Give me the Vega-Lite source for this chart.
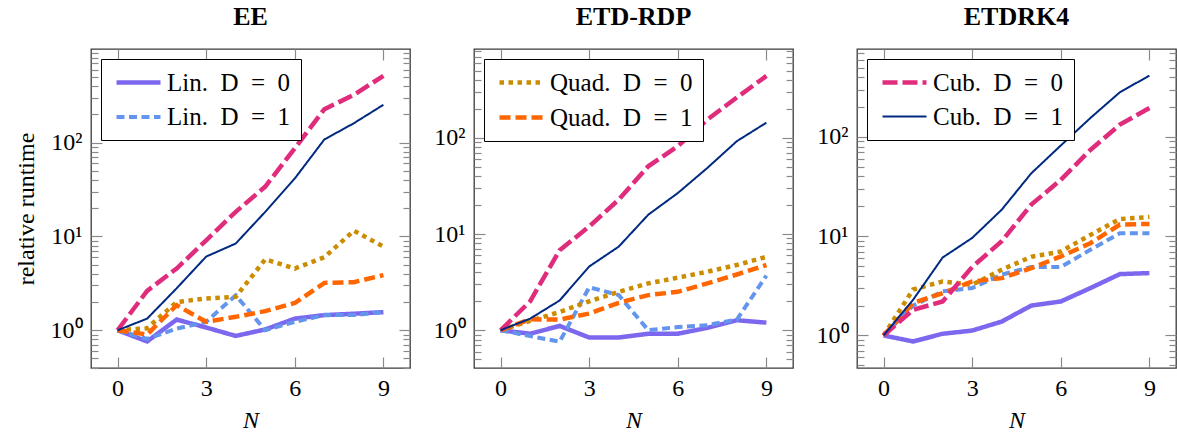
{
  "$schema": "https://vega.github.io/schema/vega-lite/v6.json",
  "background": "white",
  "padding": {"left": 13, "top": 3, "right": 1, "bottom": 2},
  "spacing": 64,
  "bounds": "flush",
  "datasets": {
    "d": [
      {"p":"EE","s":"Lin. D = 0","N":0,"v":1},{"p":"EE","s":"Lin. D = 0","N":1,"v":0.76},{"p":"EE","s":"Lin. D = 0","N":2,"v":1.3},{"p":"EE","s":"Lin. D = 0","N":3,"v":1.07},{"p":"EE","s":"Lin. D = 0","N":4,"v":0.87},{"p":"EE","s":"Lin. D = 0","N":5,"v":1.02},{"p":"EE","s":"Lin. D = 0","N":6,"v":1.33},{"p":"EE","s":"Lin. D = 0","N":7,"v":1.45},{"p":"EE","s":"Lin. D = 0","N":8,"v":1.5},{"p":"EE","s":"Lin. D = 0","N":9,"v":1.56},
      {"p":"EE","s":"Lin. D = 1","N":0,"v":1},{"p":"EE","s":"Lin. D = 1","N":1,"v":0.81},{"p":"EE","s":"Lin. D = 1","N":2,"v":1.04},{"p":"EE","s":"Lin. D = 1","N":3,"v":1.23},{"p":"EE","s":"Lin. D = 1","N":4,"v":2.36},{"p":"EE","s":"Lin. D = 1","N":5,"v":1.0},{"p":"EE","s":"Lin. D = 1","N":6,"v":1.23},{"p":"EE","s":"Lin. D = 1","N":7,"v":1.45},{"p":"EE","s":"Lin. D = 1","N":8,"v":1.45},{"p":"EE","s":"Lin. D = 1","N":9,"v":1.57},
      {"p":"EE","s":"Quad. D = 0","N":0,"v":1},{"p":"EE","s":"Quad. D = 0","N":1,"v":1.05},{"p":"EE","s":"Quad. D = 0","N":2,"v":2.0},{"p":"EE","s":"Quad. D = 0","N":3,"v":2.18},{"p":"EE","s":"Quad. D = 0","N":4,"v":2.27},{"p":"EE","s":"Quad. D = 0","N":5,"v":5.7},{"p":"EE","s":"Quad. D = 0","N":6,"v":4.55},{"p":"EE","s":"Quad. D = 0","N":7,"v":6.0},{"p":"EE","s":"Quad. D = 0","N":8,"v":11.5},{"p":"EE","s":"Quad. D = 0","N":9,"v":7.8},
      {"p":"EE","s":"Quad. D = 1","N":0,"v":1},{"p":"EE","s":"Quad. D = 1","N":1,"v":0.9},{"p":"EE","s":"Quad. D = 1","N":2,"v":1.85},{"p":"EE","s":"Quad. D = 1","N":3,"v":1.23},{"p":"EE","s":"Quad. D = 1","N":4,"v":1.39},{"p":"EE","s":"Quad. D = 1","N":5,"v":1.6},{"p":"EE","s":"Quad. D = 1","N":6,"v":1.95},{"p":"EE","s":"Quad. D = 1","N":7,"v":3.2},{"p":"EE","s":"Quad. D = 1","N":8,"v":3.25},{"p":"EE","s":"Quad. D = 1","N":9,"v":3.87},
      {"p":"EE","s":"Cub. D = 0","N":0,"v":1},{"p":"EE","s":"Cub. D = 0","N":1,"v":2.63},{"p":"EE","s":"Cub. D = 0","N":2,"v":4.55},{"p":"EE","s":"Cub. D = 0","N":3,"v":9.1},{"p":"EE","s":"Cub. D = 0","N":4,"v":18.3},{"p":"EE","s":"Cub. D = 0","N":5,"v":34},{"p":"EE","s":"Cub. D = 0","N":6,"v":87},{"p":"EE","s":"Cub. D = 0","N":7,"v":227},{"p":"EE","s":"Cub. D = 0","N":8,"v":323},{"p":"EE","s":"Cub. D = 0","N":9,"v":515},
      {"p":"EE","s":"Cub. D = 1","N":0,"v":1},{"p":"EE","s":"Cub. D = 1","N":1,"v":1.33},{"p":"EE","s":"Cub. D = 1","N":2,"v":2.8},{"p":"EE","s":"Cub. D = 1","N":3,"v":6.1},{"p":"EE","s":"Cub. D = 1","N":4,"v":8.4},{"p":"EE","s":"Cub. D = 1","N":5,"v":18.3},{"p":"EE","s":"Cub. D = 1","N":6,"v":41.5},{"p":"EE","s":"Cub. D = 1","N":7,"v":108},{"p":"EE","s":"Cub. D = 1","N":8,"v":161},{"p":"EE","s":"Cub. D = 1","N":9,"v":253},

      {"p":"ETD-RDP","s":"Lin. D = 0","N":0,"v":1},{"p":"ETD-RDP","s":"Lin. D = 0","N":1,"v":0.92},{"p":"ETD-RDP","s":"Lin. D = 0","N":2,"v":1.11},{"p":"ETD-RDP","s":"Lin. D = 0","N":3,"v":0.84},{"p":"ETD-RDP","s":"Lin. D = 0","N":4,"v":0.84},{"p":"ETD-RDP","s":"Lin. D = 0","N":5,"v":0.92},{"p":"ETD-RDP","s":"Lin. D = 0","N":6,"v":0.92},{"p":"ETD-RDP","s":"Lin. D = 0","N":7,"v":1.06},{"p":"ETD-RDP","s":"Lin. D = 0","N":8,"v":1.27},{"p":"ETD-RDP","s":"Lin. D = 0","N":9,"v":1.2},
      {"p":"ETD-RDP","s":"Lin. D = 1","N":0,"v":1},{"p":"ETD-RDP","s":"Lin. D = 1","N":1,"v":0.87},{"p":"ETD-RDP","s":"Lin. D = 1","N":2,"v":0.76},{"p":"ETD-RDP","s":"Lin. D = 1","N":3,"v":2.8},{"p":"ETD-RDP","s":"Lin. D = 1","N":4,"v":2.32},{"p":"ETD-RDP","s":"Lin. D = 1","N":5,"v":1.0},{"p":"ETD-RDP","s":"Lin. D = 1","N":6,"v":1.08},{"p":"ETD-RDP","s":"Lin. D = 1","N":7,"v":1.13},{"p":"ETD-RDP","s":"Lin. D = 1","N":8,"v":1.29},{"p":"ETD-RDP","s":"Lin. D = 1","N":9,"v":3.7},
      {"p":"ETD-RDP","s":"Quad. D = 0","N":0,"v":1},{"p":"ETD-RDP","s":"Quad. D = 0","N":1,"v":1.25},{"p":"ETD-RDP","s":"Quad. D = 0","N":2,"v":1.55},{"p":"ETD-RDP","s":"Quad. D = 0","N":3,"v":2.0},{"p":"ETD-RDP","s":"Quad. D = 0","N":4,"v":2.51},{"p":"ETD-RDP","s":"Quad. D = 0","N":5,"v":3.07},{"p":"ETD-RDP","s":"Quad. D = 0","N":6,"v":3.52},{"p":"ETD-RDP","s":"Quad. D = 0","N":7,"v":4.06},{"p":"ETD-RDP","s":"Quad. D = 0","N":8,"v":4.77},{"p":"ETD-RDP","s":"Quad. D = 0","N":9,"v":5.8},
      {"p":"ETD-RDP","s":"Quad. D = 1","N":0,"v":1},{"p":"ETD-RDP","s":"Quad. D = 1","N":1,"v":1.3},{"p":"ETD-RDP","s":"Quad. D = 1","N":2,"v":1.29},{"p":"ETD-RDP","s":"Quad. D = 1","N":3,"v":1.49},{"p":"ETD-RDP","s":"Quad. D = 1","N":4,"v":1.93},{"p":"ETD-RDP","s":"Quad. D = 1","N":5,"v":2.32},{"p":"ETD-RDP","s":"Quad. D = 1","N":6,"v":2.51},{"p":"ETD-RDP","s":"Quad. D = 1","N":7,"v":3.07},{"p":"ETD-RDP","s":"Quad. D = 1","N":8,"v":3.8},{"p":"ETD-RDP","s":"Quad. D = 1","N":9,"v":4.77},
      {"p":"ETD-RDP","s":"Cub. D = 0","N":0,"v":1},{"p":"ETD-RDP","s":"Cub. D = 0","N":1,"v":2.0},{"p":"ETD-RDP","s":"Cub. D = 0","N":2,"v":6.8},{"p":"ETD-RDP","s":"Cub. D = 0","N":3,"v":12},{"p":"ETD-RDP","s":"Cub. D = 0","N":4,"v":22.8},{"p":"ETD-RDP","s":"Cub. D = 0","N":5,"v":50.7},{"p":"ETD-RDP","s":"Cub. D = 0","N":6,"v":82},{"p":"ETD-RDP","s":"Cub. D = 0","N":7,"v":155},{"p":"ETD-RDP","s":"Cub. D = 0","N":8,"v":263},{"p":"ETD-RDP","s":"Cub. D = 0","N":9,"v":441},
      {"p":"ETD-RDP","s":"Cub. D = 1","N":0,"v":1},{"p":"ETD-RDP","s":"Cub. D = 1","N":1,"v":1.32},{"p":"ETD-RDP","s":"Cub. D = 1","N":2,"v":2.04},{"p":"ETD-RDP","s":"Cub. D = 1","N":3,"v":4.6},{"p":"ETD-RDP","s":"Cub. D = 1","N":4,"v":7.4},{"p":"ETD-RDP","s":"Cub. D = 1","N":5,"v":15.9},{"p":"ETD-RDP","s":"Cub. D = 1","N":6,"v":26.7},{"p":"ETD-RDP","s":"Cub. D = 1","N":7,"v":48.7},{"p":"ETD-RDP","s":"Cub. D = 1","N":8,"v":92.5},{"p":"ETD-RDP","s":"Cub. D = 1","N":9,"v":144},

      {"p":"ETDRK4","s":"Lin. D = 0","N":0,"v":1},{"p":"ETDRK4","s":"Lin. D = 0","N":1,"v":0.87},{"p":"ETDRK4","s":"Lin. D = 0","N":2,"v":1.04},{"p":"ETDRK4","s":"Lin. D = 0","N":3,"v":1.12},{"p":"ETDRK4","s":"Lin. D = 0","N":4,"v":1.38},{"p":"ETDRK4","s":"Lin. D = 0","N":5,"v":2.0},{"p":"ETDRK4","s":"Lin. D = 0","N":6,"v":2.2},{"p":"ETDRK4","s":"Lin. D = 0","N":7,"v":3.0},{"p":"ETDRK4","s":"Lin. D = 0","N":8,"v":4.15},{"p":"ETDRK4","s":"Lin. D = 0","N":9,"v":4.25},
      {"p":"ETDRK4","s":"Lin. D = 1","N":0,"v":1},{"p":"ETDRK4","s":"Lin. D = 1","N":1,"v":2.0},{"p":"ETDRK4","s":"Lin. D = 1","N":2,"v":2.78},{"p":"ETDRK4","s":"Lin. D = 1","N":3,"v":3.0},{"p":"ETDRK4","s":"Lin. D = 1","N":4,"v":4.1},{"p":"ETDRK4","s":"Lin. D = 1","N":5,"v":4.9},{"p":"ETDRK4","s":"Lin. D = 1","N":6,"v":4.9},{"p":"ETDRK4","s":"Lin. D = 1","N":7,"v":7.3},{"p":"ETDRK4","s":"Lin. D = 1","N":8,"v":10.7},{"p":"ETDRK4","s":"Lin. D = 1","N":9,"v":10.7},
      {"p":"ETDRK4","s":"Quad. D = 0","N":0,"v":1},{"p":"ETDRK4","s":"Quad. D = 0","N":1,"v":2.9},{"p":"ETDRK4","s":"Quad. D = 0","N":2,"v":3.5},{"p":"ETDRK4","s":"Quad. D = 0","N":3,"v":3.24},{"p":"ETDRK4","s":"Quad. D = 0","N":4,"v":4.6},{"p":"ETDRK4","s":"Quad. D = 0","N":5,"v":6.2},{"p":"ETDRK4","s":"Quad. D = 0","N":6,"v":7.0},{"p":"ETDRK4","s":"Quad. D = 0","N":7,"v":10.3},{"p":"ETDRK4","s":"Quad. D = 0","N":8,"v":14.9},{"p":"ETDRK4","s":"Quad. D = 0","N":9,"v":15.6},
      {"p":"ETDRK4","s":"Quad. D = 1","N":0,"v":1},{"p":"ETDRK4","s":"Quad. D = 1","N":1,"v":2.12},{"p":"ETDRK4","s":"Quad. D = 1","N":2,"v":2.67},{"p":"ETDRK4","s":"Quad. D = 1","N":3,"v":3.5},{"p":"ETDRK4","s":"Quad. D = 1","N":4,"v":3.78},{"p":"ETDRK4","s":"Quad. D = 1","N":5,"v":4.77},{"p":"ETDRK4","s":"Quad. D = 1","N":6,"v":6.25},{"p":"ETDRK4","s":"Quad. D = 1","N":7,"v":8.5},{"p":"ETDRK4","s":"Quad. D = 1","N":8,"v":13.1},{"p":"ETDRK4","s":"Quad. D = 1","N":9,"v":13.3},
      {"p":"ETDRK4","s":"Cub. D = 0","N":0,"v":1},{"p":"ETDRK4","s":"Cub. D = 0","N":1,"v":1.81},{"p":"ETDRK4","s":"Cub. D = 0","N":2,"v":2.2},{"p":"ETDRK4","s":"Cub. D = 0","N":3,"v":4.9},{"p":"ETDRK4","s":"Cub. D = 0","N":4,"v":8.9},{"p":"ETDRK4","s":"Cub. D = 0","N":5,"v":20.8},{"p":"ETDRK4","s":"Cub. D = 0","N":6,"v":37},{"p":"ETDRK4","s":"Cub. D = 0","N":7,"v":74},{"p":"ETDRK4","s":"Cub. D = 0","N":8,"v":133},{"p":"ETDRK4","s":"Cub. D = 0","N":9,"v":196},
      {"p":"ETDRK4","s":"Cub. D = 1","N":0,"v":1},{"p":"ETDRK4","s":"Cub. D = 1","N":1,"v":2.29},{"p":"ETDRK4","s":"Cub. D = 1","N":2,"v":6.1},{"p":"ETDRK4","s":"Cub. D = 1","N":3,"v":9.6},{"p":"ETDRK4","s":"Cub. D = 1","N":4,"v":18.5},{"p":"ETDRK4","s":"Cub. D = 1","N":5,"v":43},{"p":"ETDRK4","s":"Cub. D = 1","N":6,"v":82},{"p":"ETDRK4","s":"Cub. D = 1","N":7,"v":155},{"p":"ETDRK4","s":"Cub. D = 1","N":8,"v":282},{"p":"ETDRK4","s":"Cub. D = 1","N":9,"v":415}
    ]
  },
  "data": {"name": "d"},
  "resolve": {
    "scale": {"y": "independent", "color": "independent", "strokeDash": "independent", "strokeWidth": "independent"},
    "legend": {"color": "independent", "strokeDash": "independent", "strokeWidth": "independent"}
  },
  "hconcat": [
    {
      "title": "EE",
      "width": 319, "height": 319,
      "transform": [{"filter": "datum.p == 'EE'"}],
      "layer": [
        {
          "mark": {"type": "line", "strokeJoin": "miter"},
          "encoding": {
            "x": {"field": "N", "type": "quantitative", "scale": {"domain": [-0.9, 9.9], "nice": false, "zero": false}, "axis": {"orient": "bottom", "values": [0, 3, 6, 9], "tickSize": -11, "labelPadding": 19, "title": "N", "titleFontStyle": "italic", "titlePadding": 8}},
            "y": {"field": "v", "type": "quantitative", "scale": {"type": "log", "domain": [0.396, 995], "nice": false}, "axis": {"orient": "left", "values": [1, 10, 100, 1000], "tickSize": -11, "labelPadding": 20, "labelExpr": "datum.value >= 999 ? '10³' : datum.value >= 99 ? '10²' : datum.value >= 9 ? '10¹' : '10⁰'", "title": "relative runtime", "titlePadding": 12}},
            "color": {"field": "s", "type": "nominal", "sort": null, "scale": {"domain": ["Lin. D = 0", "Lin. D = 1", "Quad. D = 0", "Quad. D = 1", "Cub. D = 0", "Cub. D = 1"], "range": ["#7B68EE", "#6495ED", "#CC8C00", "#FF6600", "#E02C7C", "#002A80"]}, "legend": {"values": ["Lin. D = 0", "Lin. D = 1"], "title": null, "orient": "top-left", "offset": 10, "padding": 10, "strokeColor": "black", "fillColor": "white", "symbolType": "M-2,0H2", "symbolSize": 484, "rowPadding": 8, "labelOffset": 15, "symbolOffset": 14, "labelFontSize": 25, "labelFont": "Liberation Serif", "labelColor": "black", "labelExpr": "replace(replace(datum.label, ' = ', '\u2002=\u2002'), '. ', '.\u2002')"}},
            "strokeDash": {"field": "s", "type": "nominal", "sort": null, "scale": {"domain": ["Lin. D = 0", "Lin. D = 1", "Quad. D = 0", "Quad. D = 1", "Cub. D = 0", "Cub. D = 1"], "range": [[1, 0], [8, 4.5], [4.5, 4.5], [11, 5], [15, 5], [1, 0]]}, "legend": {"values": ["Lin. D = 0", "Lin. D = 1"], "title": null, "orient": "top-left", "offset": 10, "padding": 10, "strokeColor": "black", "fillColor": "white", "symbolType": "M-2,0H2", "symbolSize": 484, "rowPadding": 8, "labelOffset": 15, "symbolOffset": 14, "labelFontSize": 25, "labelFont": "Liberation Serif", "labelColor": "black", "labelExpr": "replace(replace(datum.label, ' = ', '\u2002=\u2002'), '. ', '.\u2002')"}},
            "strokeWidth": {"field": "s", "type": "nominal", "sort": null, "scale": {"type": "ordinal", "domain": ["Lin. D = 0", "Lin. D = 1", "Quad. D = 0", "Quad. D = 1", "Cub. D = 0", "Cub. D = 1"], "range": [4.5, 4, 4.5, 4.5, 4.5, 2]}, "legend": {"values": ["Lin. D = 0", "Lin. D = 1"], "title": null, "orient": "top-left", "offset": 10, "padding": 10, "strokeColor": "black", "fillColor": "white", "symbolType": "M-2,0H2", "symbolSize": 484, "rowPadding": 8, "labelOffset": 15, "symbolOffset": 14, "labelFontSize": 25, "labelFont": "Liberation Serif", "labelColor": "black", "labelExpr": "replace(replace(datum.label, ' = ', '\u2002=\u2002'), '. ', '.\u2002')"}}
          }
        },
        {
          "mark": {"type": "line", "opacity": 0},
          "encoding": {
            "x": {"field": "N", "type": "quantitative", "scale": {"domain": [-0.9, 9.9], "nice": false, "zero": false}, "axis": {"orient": "top", "values": [0, 3, 6, 9], "tickSize": -11, "labels": false, "title": null}},
            "y": {"field": "v", "type": "quantitative", "scale": {"type": "log", "domain": [0.396, 995], "nice": false}, "axis": {"orient": "right", "values": [1, 10, 100, 1000], "tickSize": -11, "labels": false, "title": null}}
          }
        },
        {
          "mark": {"type": "line", "opacity": 0},
          "encoding": {
            "x": {"field": "N", "type": "quantitative", "axis": null},
            "y": {"field": "v", "type": "quantitative", "axis": {"orient": "left", "values": [0.4, 0.5, 0.6, 0.7, 0.8, 0.9, 2, 3, 4, 5, 6, 7, 8, 9, 20, 30, 40, 50, 60, 70, 80, 90, 200, 300, 400, 500, 600, 700, 800, 900], "tickSize": -7, "labels": false, "title": null}}
          }
        },
        {
          "mark": {"type": "line", "opacity": 0},
          "encoding": {
            "x": {"field": "N", "type": "quantitative", "axis": null},
            "y": {"field": "v", "type": "quantitative", "axis": {"orient": "right", "values": [0.4, 0.5, 0.6, 0.7, 0.8, 0.9, 2, 3, 4, 5, 6, 7, 8, 9, 20, 30, 40, 50, 60, 70, 80, 90, 200, 300, 400, 500, 600, 700, 800, 900], "tickSize": -7, "labels": false, "title": null}}
          }
        }
      ],
      "resolve": {"axis": {"x": "independent", "y": "independent"}}
    },
    {
      "title": "ETD-RDP",
      "width": 319, "height": 319,
      "transform": [{"filter": "datum.p == 'ETD-RDP'"}],
      "layer": [
        {
          "mark": {"type": "line", "strokeJoin": "miter"},
          "encoding": {
            "x": {"field": "N", "type": "quantitative", "scale": {"domain": [-0.9, 9.9], "nice": false, "zero": false}, "axis": {"orient": "bottom", "values": [0, 3, 6, 9], "tickSize": -11, "labelPadding": 19, "title": "N", "titleFontStyle": "italic", "titlePadding": 8}},
            "y": {"field": "v", "type": "quantitative", "scale": {"type": "log", "domain": [0.405, 840], "nice": false}, "axis": {"orient": "left", "values": [1, 10, 100], "tickSize": -11, "labelPadding": 20, "labelExpr": "datum.value >= 999 ? '10³' : datum.value >= 99 ? '10²' : datum.value >= 9 ? '10¹' : '10⁰'", "title": null}},
            "color": {"field": "s", "type": "nominal", "sort": null, "scale": {"domain": ["Lin. D = 0", "Lin. D = 1", "Quad. D = 0", "Quad. D = 1", "Cub. D = 0", "Cub. D = 1"], "range": ["#7B68EE", "#6495ED", "#CC8C00", "#FF6600", "#E02C7C", "#002A80"]}, "legend": {"values": ["Quad. D = 0", "Quad. D = 1"], "title": null, "orient": "top-left", "offset": 10, "padding": 10, "strokeColor": "black", "fillColor": "white", "symbolType": "M-2,0H2", "symbolSize": 484, "rowPadding": 8, "labelOffset": 15, "symbolOffset": 14, "labelFontSize": 25, "labelFont": "Liberation Serif", "labelColor": "black", "labelExpr": "replace(replace(datum.label, ' = ', '\u2002=\u2002'), '. ', '.\u2002')"}},
            "strokeDash": {"field": "s", "type": "nominal", "sort": null, "scale": {"domain": ["Lin. D = 0", "Lin. D = 1", "Quad. D = 0", "Quad. D = 1", "Cub. D = 0", "Cub. D = 1"], "range": [[1, 0], [8, 4.5], [4.5, 4.5], [11, 5], [15, 5], [1, 0]]}, "legend": {"values": ["Quad. D = 0", "Quad. D = 1"], "title": null, "orient": "top-left", "offset": 10, "padding": 10, "strokeColor": "black", "fillColor": "white", "symbolType": "M-2,0H2", "symbolSize": 484, "rowPadding": 8, "labelOffset": 15, "symbolOffset": 14, "labelFontSize": 25, "labelFont": "Liberation Serif", "labelColor": "black", "labelExpr": "replace(replace(datum.label, ' = ', '\u2002=\u2002'), '. ', '.\u2002')"}},
            "strokeWidth": {"field": "s", "type": "nominal", "sort": null, "scale": {"type": "ordinal", "domain": ["Lin. D = 0", "Lin. D = 1", "Quad. D = 0", "Quad. D = 1", "Cub. D = 0", "Cub. D = 1"], "range": [4.5, 4, 4.5, 4.5, 4.5, 2]}, "legend": {"values": ["Quad. D = 0", "Quad. D = 1"], "title": null, "orient": "top-left", "offset": 10, "padding": 10, "strokeColor": "black", "fillColor": "white", "symbolType": "M-2,0H2", "symbolSize": 484, "rowPadding": 8, "labelOffset": 15, "symbolOffset": 14, "labelFontSize": 25, "labelFont": "Liberation Serif", "labelColor": "black", "labelExpr": "replace(replace(datum.label, ' = ', '\u2002=\u2002'), '. ', '.\u2002')"}}
          }
        },
        {
          "mark": {"type": "line", "opacity": 0},
          "encoding": {
            "x": {"field": "N", "type": "quantitative", "scale": {"domain": [-0.9, 9.9], "nice": false, "zero": false}, "axis": {"orient": "top", "values": [0, 3, 6, 9], "tickSize": -11, "labels": false, "title": null}},
            "y": {"field": "v", "type": "quantitative", "scale": {"type": "log", "domain": [0.405, 840], "nice": false}, "axis": {"orient": "right", "values": [1, 10, 100], "tickSize": -11, "labels": false, "title": null}}
          }
        },
        {
          "mark": {"type": "line", "opacity": 0},
          "encoding": {
            "x": {"field": "N", "type": "quantitative", "axis": null},
            "y": {"field": "v", "type": "quantitative", "axis": {"orient": "left", "values": [0.5, 0.6, 0.7, 0.8, 0.9, 2, 3, 4, 5, 6, 7, 8, 9, 20, 30, 40, 50, 60, 70, 80, 90, 200, 300, 400, 500, 600, 700, 800], "tickSize": -7, "labels": false, "title": null}}
          }
        },
        {
          "mark": {"type": "line", "opacity": 0},
          "encoding": {
            "x": {"field": "N", "type": "quantitative", "axis": null},
            "y": {"field": "v", "type": "quantitative", "axis": {"orient": "right", "values": [0.5, 0.6, 0.7, 0.8, 0.9, 2, 3, 4, 5, 6, 7, 8, 9, 20, 30, 40, 50, 60, 70, 80, 90, 200, 300, 400, 500, 600, 700, 800], "tickSize": -7, "labels": false, "title": null}}
          }
        }
      ],
      "resolve": {"axis": {"x": "independent", "y": "independent"}}
    },
    {
      "title": "ETDRK4",
      "width": 319, "height": 319,
      "transform": [{"filter": "datum.p == 'ETDRK4'"}],
      "layer": [
        {
          "mark": {"type": "line", "strokeJoin": "miter"},
          "encoding": {
            "x": {"field": "N", "type": "quantitative", "scale": {"domain": [-0.9, 9.9], "nice": false, "zero": false}, "axis": {"orient": "bottom", "values": [0, 3, 6, 9], "tickSize": -11, "labelPadding": 19, "title": "N", "titleFontStyle": "italic", "titlePadding": 8}},
            "y": {"field": "v", "type": "quantitative", "scale": {"type": "log", "domain": [0.47, 769], "nice": false}, "axis": {"orient": "left", "values": [1, 10, 100], "tickSize": -11, "labelPadding": 20, "labelExpr": "datum.value >= 999 ? '10³' : datum.value >= 99 ? '10²' : datum.value >= 9 ? '10¹' : '10⁰'", "title": null}},
            "color": {"field": "s", "type": "nominal", "sort": null, "scale": {"domain": ["Lin. D = 0", "Lin. D = 1", "Quad. D = 0", "Quad. D = 1", "Cub. D = 0", "Cub. D = 1"], "range": ["#7B68EE", "#6495ED", "#CC8C00", "#FF6600", "#E02C7C", "#002A80"]}, "legend": {"values": ["Cub. D = 0", "Cub. D = 1"], "title": null, "orient": "top-left", "offset": 10, "padding": 10, "strokeColor": "black", "fillColor": "white", "symbolType": "M-2,0H2", "symbolSize": 484, "rowPadding": 8, "labelOffset": 15, "symbolOffset": 14, "labelFontSize": 25, "labelFont": "Liberation Serif", "labelColor": "black", "labelExpr": "replace(replace(datum.label, ' = ', '\u2002=\u2002'), '. ', '.\u2002')"}},
            "strokeDash": {"field": "s", "type": "nominal", "sort": null, "scale": {"domain": ["Lin. D = 0", "Lin. D = 1", "Quad. D = 0", "Quad. D = 1", "Cub. D = 0", "Cub. D = 1"], "range": [[1, 0], [8, 4.5], [4.5, 4.5], [11, 5], [15, 5], [1, 0]]}, "legend": {"values": ["Cub. D = 0", "Cub. D = 1"], "title": null, "orient": "top-left", "offset": 10, "padding": 10, "strokeColor": "black", "fillColor": "white", "symbolType": "M-2,0H2", "symbolSize": 484, "rowPadding": 8, "labelOffset": 15, "symbolOffset": 14, "labelFontSize": 25, "labelFont": "Liberation Serif", "labelColor": "black", "labelExpr": "replace(replace(datum.label, ' = ', '\u2002=\u2002'), '. ', '.\u2002')"}},
            "strokeWidth": {"field": "s", "type": "nominal", "sort": null, "scale": {"type": "ordinal", "domain": ["Lin. D = 0", "Lin. D = 1", "Quad. D = 0", "Quad. D = 1", "Cub. D = 0", "Cub. D = 1"], "range": [4.5, 4, 4.5, 4.5, 4.5, 2]}, "legend": {"values": ["Cub. D = 0", "Cub. D = 1"], "title": null, "orient": "top-left", "offset": 10, "padding": 10, "strokeColor": "black", "fillColor": "white", "symbolType": "M-2,0H2", "symbolSize": 484, "rowPadding": 8, "labelOffset": 15, "symbolOffset": 14, "labelFontSize": 25, "labelFont": "Liberation Serif", "labelColor": "black", "labelExpr": "replace(replace(datum.label, ' = ', '\u2002=\u2002'), '. ', '.\u2002')"}}
          }
        },
        {
          "mark": {"type": "line", "opacity": 0},
          "encoding": {
            "x": {"field": "N", "type": "quantitative", "scale": {"domain": [-0.9, 9.9], "nice": false, "zero": false}, "axis": {"orient": "top", "values": [0, 3, 6, 9], "tickSize": -11, "labels": false, "title": null}},
            "y": {"field": "v", "type": "quantitative", "scale": {"type": "log", "domain": [0.47, 769], "nice": false}, "axis": {"orient": "right", "values": [1, 10, 100], "tickSize": -11, "labels": false, "title": null}}
          }
        },
        {
          "mark": {"type": "line", "opacity": 0},
          "encoding": {
            "x": {"field": "N", "type": "quantitative", "axis": null},
            "y": {"field": "v", "type": "quantitative", "axis": {"orient": "left", "values": [0.5, 0.6, 0.7, 0.8, 0.9, 2, 3, 4, 5, 6, 7, 8, 9, 20, 30, 40, 50, 60, 70, 80, 90, 200, 300, 400, 500, 600, 700], "tickSize": -7, "labels": false, "title": null}}
          }
        },
        {
          "mark": {"type": "line", "opacity": 0},
          "encoding": {
            "x": {"field": "N", "type": "quantitative", "axis": null},
            "y": {"field": "v", "type": "quantitative", "axis": {"orient": "right", "values": [0.5, 0.6, 0.7, 0.8, 0.9, 2, 3, 4, 5, 6, 7, 8, 9, 20, 30, 40, 50, 60, 70, 80, 90, 200, 300, 400, 500, 600, 700], "tickSize": -7, "labels": false, "title": null}}
          }
        }
      ],
      "resolve": {"axis": {"x": "independent", "y": "independent"}}
    }
  ],
  "config": {
    "font": "Liberation Serif",
    "view": {"stroke": "#3a3a3a", "strokeWidth": 1.3},
    "axis": {"grid": false, "domain": false, "labelFont": "Liberation Serif", "labelFontSize": 24, "labelColor": "black", "titleFont": "Liberation Serif", "titleFontSize": 24, "titleFontWeight": "normal", "titleColor": "black", "tickColor": "#8a8a8a", "tickWidth": 1.2},
    "title": {"font": "Liberation Serif", "fontSize": 26, "fontWeight": "bold", "color": "black", "offset": 18, "anchor": "middle"},
    "legend": {"labelFont": "Liberation Serif", "labelFontSize": 25, "labelColor": "black"}
  }
}
